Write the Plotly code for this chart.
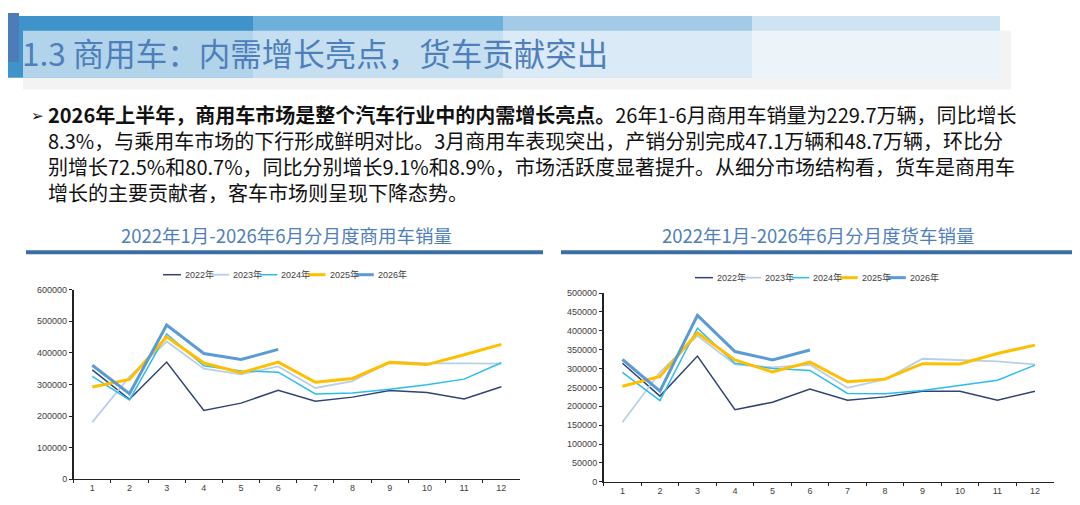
import plotly.graph_objects as go

# 月份与年份
months = [str(m) for m in range(1, 13)]
years = ["2022年", "2023年", "2024年", "2025年", "2026年"]

# 商用车月度销量（辆）
cv_2022 = [346000, 253000, 371000, 218000, 241000, 282000, 247000, 260000, 281000, 275000, 254000, 293000]
cv_2023 = [181000, 325000, 436000, 350000, 332000, 357000, 289000, 311000, 372000, 367000, 367000, 366000]
cv_2024 = [326000, 251000, 460000, 359000, 343000, 339000, 270000, 273000, 285000, 299000, 317000, 369000]
cv_2025 = [292000, 316000, 451000, 368000, 337000, 371000, 307000, 319000, 370000, 363000, 394000, 427000]
cv_2026 = [361000, 271000, 488000, 398000, 379000, 411000]

# 货车月度销量（辆）
truck_2022 = [314000, 227000, 333000, 191000, 211000, 246000, 216000, 225000, 240000, 240000, 216000, 240000]
truck_2023 = [158000, 290000, 387000, 311000, 303000, 310000, 249000, 271000, 326000, 323000, 319000, 311000]
truck_2024 = [290000, 215000, 407000, 314000, 300000, 295000, 234000, 233000, 242000, 255000, 269000, 309000]
truck_2025 = [253000, 279000, 395000, 323000, 291000, 317000, 265000, 272000, 313000, 312000, 340000, 362000]
truck_2026 = [324000, 240000, 441000, 345000, 323000, 349000]

line_colors = ["#2f4374", "#b8cfe8", "#2bbcf0", "#ffbf00", "#5b9bd5"]
line_widths = [1.5, 1.8, 1.5, 3, 3]

W, H = 1080, 505


def fx(p):
    return p / W


def fy(p):
    return 1 - p / H


fig = go.Figure()

cv_series = [cv_2022, cv_2023, cv_2024, cv_2025, cv_2026]
truck_series = [truck_2022, truck_2023, truck_2024, truck_2025, truck_2026]

for i, name in enumerate(years):
    fig.add_trace(go.Scatter(
        x=months[:len(cv_series[i])], y=cv_series[i], name=name, mode="lines",
        line=dict(color=line_colors[i], width=line_widths[i]),
        xaxis="x", yaxis="y", showlegend=False))
for i, name in enumerate(years):
    fig.add_trace(go.Scatter(
        x=months[:len(truck_series[i])], y=truck_series[i], name=name, mode="lines",
        line=dict(color=line_colors[i], width=line_widths[i]),
        xaxis="x2", yaxis="y2", showlegend=False))

tick_font = dict(family="Liberation Sans, Arial", size=9, color="#404040")
xa = dict(type="category", tickson="boundaries", ticks="outside", ticklen=3,
          tickcolor="#222", showline=True, linecolor="#222", linewidth=1,
          showgrid=False, zeroline=False, tickfont=tick_font, range=[-0.5, 11.5],
          fixedrange=True)
ya = dict(ticks="outside", ticklen=3, tickcolor="#222", showline=True,
          linecolor="#222", linewidth=1.5, showgrid=False, zeroline=False,
          tickformat="d", tickfont=tick_font, fixedrange=True)

fig.update_layout(
    width=W, height=H,
    margin=dict(l=0, r=0, t=0, b=0),
    paper_bgcolor="white", plot_bgcolor="white",
    xaxis=dict(xa, domain=[fx(65.7), fx(511.9)], anchor="y"),
    yaxis=dict(ya, domain=[fy(475.7), fy(282.3)], range=[0, 600000], dtick=100000, anchor="x"),
    xaxis2=dict(xa, domain=[fx(595.7), fx(1045.7)], anchor="y2"),
    yaxis2=dict(ya, domain=[fy(478.3), fy(285.7)], range=[0, 500000], dtick=50000, anchor="x2"),
)

shapes = []
# 页眉色块
shapes.append(dict(type="rect", xref="paper", yref="paper", x0=fx(15), x1=fx(1003),
                   y0=fy(78), y1=fy(18), fillcolor="#f3f3f3", line_width=0, layer="below"))
block_x = [0, 245, 495, 744, 992]
block_colors = ["#3f93cb", "#6eb0dc", "#a3cbe8", "#cfe4f3"]
for j, c in enumerate(block_colors):
    shapes.append(dict(type="rect", xref="paper", yref="paper", x0=fx(block_x[j]), x1=fx(block_x[j + 1]),
                       y0=fy(66), y1=fy(3), fillcolor=c, line_width=0, layer="below"))
shapes.append(dict(type="rect", xref="paper", yref="paper", x0=0, x1=fx(11),
                   y0=fy(50), y1=1, fillcolor="#4d7cb6", line_width=0, layer="below"))
shapes.append(dict(type="rect", xref="paper", yref="paper", x0=fx(15), x1=fx(992),
                   y0=fy(66), y1=fy(18), fillcolor="rgba(255,255,255,0.6)", line_width=0, layer="below"))
# 图表标题下方蓝条
for x0, x1 in [(18, 535), (553, 1068)]:
    shapes.append(dict(type="rect", xref="paper", yref="paper", x0=fx(x0), x1=fx(x1),
                       y0=fy(246), y1=fy(242), fillcolor="#3b6ea5", line_width=0))

annotations = []
annotations.append(dict(text="1.3 商用车：内需增长亮点，货车贡献突出", x=fx(12), y=fy(40),
                        xref="paper", yref="paper", xanchor="left", yanchor="middle", showarrow=False,
                        font=dict(family="Noto Sans CJK SC", size=31.5, color="#4f7fba")))

annotations.append(dict(text="➢", x=fx(38), y=fy(105), xref="paper", yref="paper",
                        xanchor="right", yanchor="middle", showarrow=False,
                        font=dict(family="DejaVu Sans", size=15, color="#111")))
body_lines = [
    "<b>2026年上半年，商用车市场是整个汽车行业中的内需增长亮点。</b>26年1-6月商用车销量为229.7万辆，同比增长",
    "8.3%，与乘用车市场的下行形成鲜明对比。3月商用车表现突出，产销分别完成47.1万辆和48.7万辆，环比分",
    "别增长72.5%和80.7%，同比分别增长9.1%和8.9%，市场活跃度显著提升。从细分市场结构看，货车是商用车",
    "增长的主要贡献者，客车市场则呈现下降态势。",
]
annotations.append(dict(text="<br>".join(body_lines), x=fx(38), y=fy(143), xref="paper", yref="paper",
                        xanchor="left", yanchor="middle", align="left", showarrow=False,
                        font=dict(family="Noto Sans CJK SC, DejaVu Sans", size=20, color="#111")))

title_font = dict(family="Noto Sans CJK SC", size=18.5, color="#4f7fba")
annotations.append(dict(text="2022年1月-2026年6月分月度商用车销量", x=fx(278), y=fy(226),
                        xref="paper", yref="paper", xanchor="center", yanchor="middle",
                        showarrow=False, font=title_font))
annotations.append(dict(text="2022年1月-2026年6月分月度货车销量", x=fx(810), y=fy(226),
                        xref="paper", yref="paper", xanchor="center", yanchor="middle",
                        showarrow=False, font=title_font))

# 自绘图例
for lx, ly in [(155, 267), (687, 270)]:
    for i, name in enumerate(years):
        x0 = lx + i * 48.2
        shapes.append(dict(type="line", xref="paper", yref="paper", x0=fx(x0), x1=fx(x0 + 18),
                           y0=fy(ly), y1=fy(ly), line=dict(color=line_colors[i], width=line_widths[i])))
        annotations.append(dict(text=name, x=fx(x0 + 20), y=fy(ly), xref="paper", yref="paper",
                                xanchor="left", yanchor="middle", showarrow=False,
                                font=dict(family="Liberation Sans, Noto Sans CJK SC", size=9, color="#404040")))

fig.update_layout(shapes=shapes, annotations=annotations)

fig.write_html("out.html")
